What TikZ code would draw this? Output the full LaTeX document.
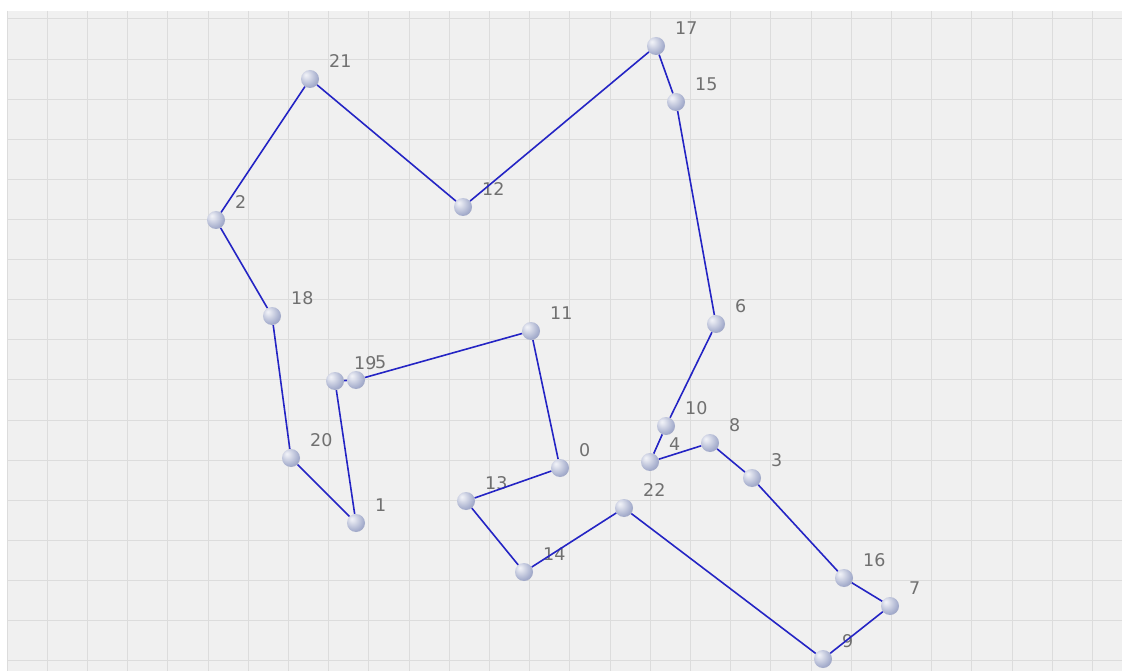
\documentclass[tikz,border=0pt]{standalone}
\usepackage{fontspec}
\setmainfont{DejaVu Sans}
\usepackage{xcolor}
\definecolor{gridbg}{HTML}{F0F0F0}
\definecolor{gridln}{HTML}{DCDCDC}
\definecolor{tourblue}{HTML}{2424C4}
\definecolor{ballc}{HTML}{A6AECD}
\definecolor{lblgray}{HTML}{707070}
\pgfdeclareradialshading{sphere}{\pgfpoint{-12bp}{12bp}}{%
  color(0bp)=(white!85!ballc); color(6bp)=(white!70!ballc);
  color(28bp)=(ballc); color(52bp)=(ballc!78!black); color(70bp)=(ballc!78!black)}

\begin{document}
\begin{tikzpicture}[
  x=1pt, y=-1pt,
  city/.style={circle, minimum size=18pt, inner sep=0pt, shading=sphere},
  lbl/.style={anchor=west, xshift=16pt, yshift=9pt, inner sep=3pt, text=lblgray, font=\fontsize{17.5}{20}\selectfont},
  tour/.style={draw=tourblue, line width=1.6pt}
]
\useasboundingbox (0,0) rectangle (1122,671);
% grid background
\fill[gridbg] (7,11) rectangle (1122,671);
\foreach \i in {0,...,27}
  \draw[gridln, line width=1pt] (7+40.2*\i,11) -- (7+40.2*\i,671);
\foreach \j in {0,...,16}
  \draw[gridln, line width=1pt] (7,19+40.1*\j) -- (1122,19+40.1*\j);

% cities
\node[city, label={[lbl]0}] (c0) at (560,468) {};
\node[city, label={[lbl]1}] (c1) at (356,523) {};
\node[city, label={[lbl]2}] (c2) at (216,220) {};
\node[city, label={[lbl]3}] (c3) at (752,478) {};
\node[city, label={[lbl]4}] (c4) at (650,462) {};
\node[city, label={[lbl]6}] (c6) at (716,324) {};
\node[city, label={[lbl]7}] (c7) at (890,606) {};
\node[city, label={[lbl]8}] (c8) at (710,443) {};
\node[city, label={[lbl]9}] (c9) at (823,659) {};
\node[city, label={[lbl]10}] (c10) at (666,426) {};
\node[city, label={[lbl]11}] (c11) at (531,331) {};
\node[city, label={[lbl]12}] (c12) at (463,207) {};
\node[city, label={[lbl]13}] (c13) at (466,501) {};
\node[city, label={[lbl]14}] (c14) at (524,572) {};
\node[city, label={[lbl]15}] (c15) at (676,102) {};
\node[city, label={[lbl]16}] (c16) at (844,578) {};
\node[city, label={[lbl]17}] (c17) at (656,46) {};
\node[city, label={[lbl]18}] (c18) at (272,316) {};
\node[city, label={[lbl]19}] (c19) at (335,381) {};
\node[city, label={[lbl]5}] (c5) at (356,380) {};
\node[city, label={[lbl]20}] (c20) at (291,458) {};
\node[city, label={[lbl]21}] (c21) at (310,79) {};
\node[city, label={[lbl]22}] (c22) at (624,508) {};

% tour
\draw[tour] (c17)--(c15)--(c6)--(c10)--(c4)--(c8)--(c3)--(c16)--(c7)--(c9)--(c22)--(c14)--(c13)--(c0)--(c11)--(c5)--(c19)--(c1)--(c20)--(c18)--(c2)--(c21)--(c12)--(c17);
\end{tikzpicture}
\end{document}
